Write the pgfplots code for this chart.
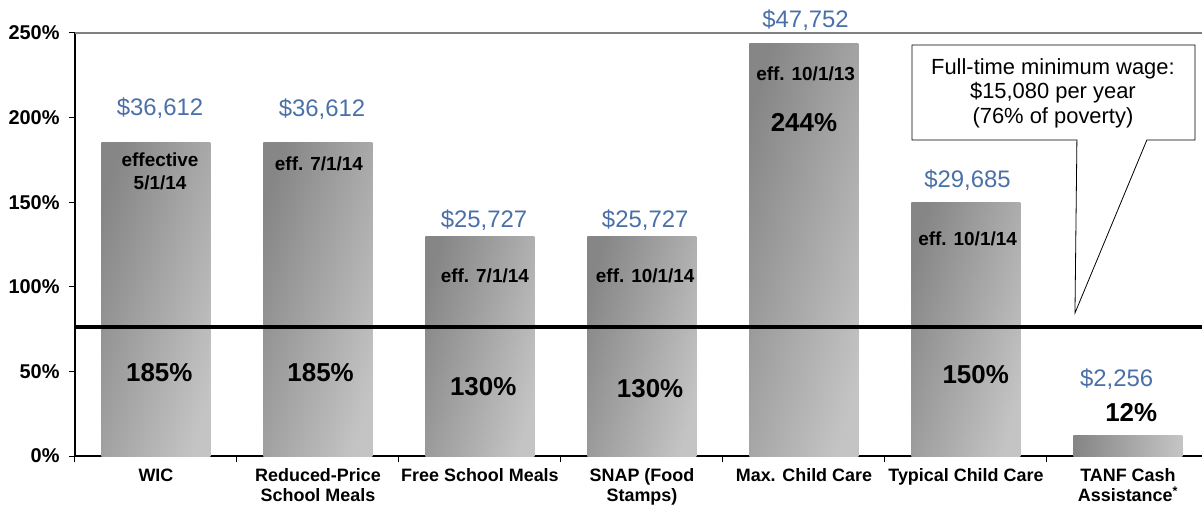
\documentclass[border=0pt]{standalone}
\usepackage{pgfplots}
\pgfplotsset{compat=1.18}
\usepackage{fontspec}
\setmainfont{Liberation Sans}
\definecolor{dblue}{RGB}{74,112,168}
\definecolor{barL}{RGB}{134,134,134}
\definecolor{barR}{RGB}{196,196,196}
\definecolor{topgray}{RGB}{128,128,128}
\begin{document}
\begin{tikzpicture}
\begin{axis}[
  scale only axis, width=1127bp, height=423bp,
  xmin=-0.5, xmax=6.457, ymin=0, ymax=250,
  axis lines*=left,
  axis line style={black, line width=1.5bp},
  xtick={0,...,6},
  xticklabels={WIC, Reduced-Price\\School Meals, Free School Meals, SNAP (Food\\Stamps), Max. Child Care, Typical Child Care, TANF Cash\\Assistance\textsuperscript{*}},
  xticklabel style={align=center, font=\fontsize{18}{20}\selectfont\bfseries, anchor=north, yshift=-3bp},
  minor xtick={-0.5,0.5,...,5.5},
  ytick={0,50,...,250},
  yticklabels={0\%,50\%,100\%,150\%,200\%,250\%},
  yticklabel style={font=\fontsize{20}{22}\selectfont\bfseries, xshift=-6bp},
  tick align=outside,
  major tick length=6bp,
  minor tick length=6bp,
  tick style={black, line width=1bp},
  major x tick style={draw=none},
  clip=false,
  mybar/.style={ybar, bar width=109bp, draw=none, mark=none, left color=barL, right color=barR, shading angle=#1},
  mybar/.default=74,
]
\coordinate (O) at (rel axis cs:0,0);
\addplot[mybar] coordinates {(0,185)};
\addplot[mybar] coordinates {(1,185)};
\addplot[mybar] coordinates {(2,130)};
\addplot[mybar] coordinates {(3,130)};
\addplot[mybar] coordinates {(4,244)};
\addplot[mybar] coordinates {(5,150)};
\addplot[mybar=88] coordinates {(6,12)};
\addplot[black, line width=4bp, mark=none, forget plot] coordinates {(-0.5,76) (6.457,76)};
\draw[topgray, line width=2bp] (rel axis cs:0,1) -- (rel axis cs:1,1);
\draw[black, line width=0.8bp, fill=white] (axis cs:4.667,242.9) -- (axis cs:6.414,242.9) -- (axis cs:6.414,186.8) -- (axis cs:6.117,186.8) -- (axis cs:5.673,84.5) -- (axis cs:5.685,186.8) -- (axis cs:4.667,186.8) -- cycle;
% callout text
\begin{scope}[every node/.style={anchor=base, inner sep=0pt, font=\fontsize{22}{24}\selectfont}]
\node at (axis cs:5.537,225.2) {Full-time minimum wage:};
\node at (axis cs:5.537,211.0) {\$15,080 per year};
\node at (axis cs:5.537,196.8) {(76\% of poverty)};
\end{scope}
% dollar labels
\begin{scope}[every node/.style={anchor=base, inner sep=0pt, text=dblue, font=\fontsize{24}{26}\selectfont}]
\node at (axis cs:0.025,201.5) {\$36,612};
\node at (axis cs:1.025,200.4) {\$36,612};
\node at (axis cs:2.025,135.3) {\$25,727};
\node at (axis cs:3.02,135.3) {\$25,727};
\node at (axis cs:4.01,253.5) {\$47,752};
\node at (axis cs:5.01,158.4) {\$29,685};
\node at (axis cs:5.93,40.8) {\$2,256};
\end{scope}
% effective dates
\begin{scope}[every node/.style={anchor=base, inner sep=0pt, font=\fontsize{19}{21}\selectfont\bfseries}]
\node at (axis cs:0.025,171.1) {effective};
\node at (axis cs:0.025,157.8) {5/1/14};
\node at (axis cs:1.006,169.0) {eff. 7/1/14};
\node at (axis cs:2.03,102.8) {eff. 7/1/14};
\node at (axis cs:3.02,102.8) {eff. 10/1/14};
\node at (axis cs:4.01,222.2) {eff. 10/1/13};
\node at (axis cs:5.01,124.7) {eff. 10/1/14};
\end{scope}
% percent labels
\begin{scope}[every node/.style={anchor=base, inner sep=0pt, font=\fontsize{26}{28}\selectfont\bfseries}]
\node at (axis cs:0.02,44.3) {185\%};
\node at (axis cs:1.016,44.3) {185\%};
\node at (axis cs:2.02,35.5) {130\%};
\node at (axis cs:3.05,34.3) {130\%};
\node at (axis cs:4.0,191.8) {244\%};
\node at (axis cs:5.06,42.6) {150\%};
\node at (axis cs:6.02,20.3) {12\%};
\end{scope}
\end{axis}
\pgfresetboundingbox
\path (O) ++(-75bp,-50bp) rectangle ++(1202bp,506bp);
\end{tikzpicture}
\end{document}
